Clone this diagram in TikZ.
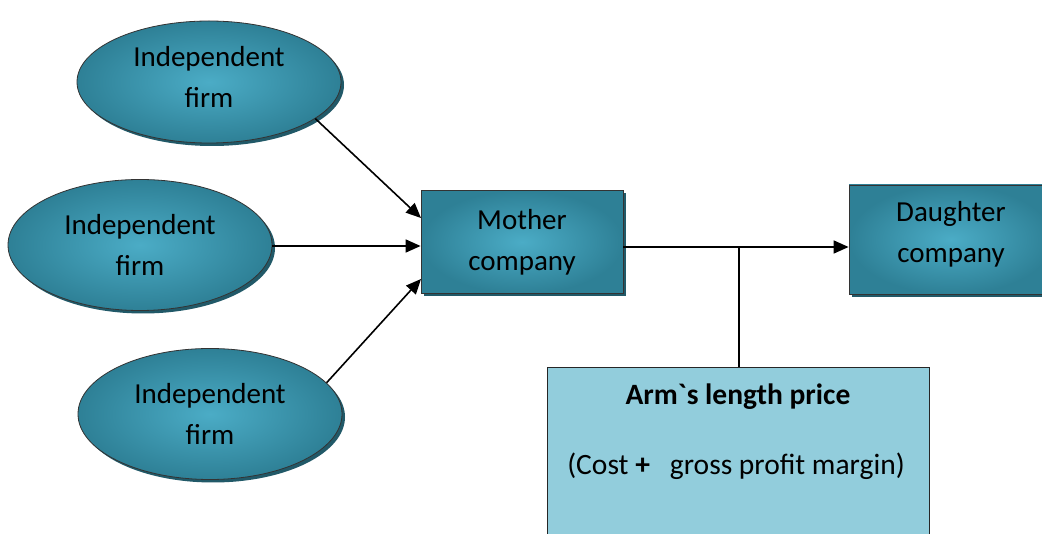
\documentclass[tikz,border=0pt]{standalone}
\usepackage{fontspec}
\setmainfont{Carlito}[Ligatures=TeXOff]
\usetikzlibrary{shapes.geometric,shadows,arrows.meta}

\definecolor{tealin}{RGB}{75,172,198}
\definecolor{tealout}{RGB}{46,128,150}
\definecolor{tealshadow}{RGB}{33,89,104}
\definecolor{pricefill}{RGB}{146,205,220}

\tikzset{
  shaded/.style={draw=black!80, line width=0.8pt, inner color=tealin, outer color=tealout,
    drop shadow={shadow xshift=3pt, shadow yshift=-3pt, fill=tealshadow, opacity=1}},
  firm/.style={shaded, ellipse, minimum width=264pt, minimum height=131pt, inner sep=0pt,
    align=center, font=\fontsize{29}{41}\selectfont},
  company/.style={shaded, rectangle, inner sep=0pt, align=center,
    font=\fontsize{29}{41}\selectfont},
  caption/.style={align=center, inner sep=0pt, font=\fontsize{29}{41}\selectfont},
  link/.style={line width=1.6pt, -{Triangle[length=15pt,width=13pt]}},
  plain/.style={line width=1.6pt},
}

\begin{document}
\begin{tikzpicture}[x=1pt,y=-1pt]
  \useasboundingbox (0,0) rectangle (1042,534);
  \begin{scope}
    \clip (0,0) rectangle (1042,534);

    % suppliers
    \node[firm, minimum height=122pt] (f1) at (209,82) {};
    \node[caption] (f1text) at (209,77) {Independent\\firm};
    \node[firm] (f2) at (140,245) {Independent\\firm};
    \node[firm] (f3) at (210,414) {Independent\\firm};

    % group companies
    \node[company, minimum width=202pt, minimum height=103pt] (mother) at (522,242) {Mother\\company};
    \node[company, minimum width=204pt, minimum height=109pt] (daughter) at (951,239.5) {};
    \node[caption] (daughtertext) at (951,234) {Daughter\\company};

    % pricing box
    \node[draw=black!85, line width=1.2pt, fill=pricefill, minimum width=382pt, minimum height=200pt,
          anchor=north west, inner sep=0pt] (price) at (547,367) {};
    \node[font=\fontsize{29.5}{34}\selectfont\bfseries] (pricetitle) at (738,397) {Arm`s length price};
    \node[font=\fontsize{29.5}{34}\selectfont] (priceformula) at (736,466) {(Cost \textbf{+}\ \ \ gross profit margin)};

    % connectors
    \coordinate (a1) at (421,218);
    \coordinate (a3) at (421,279);
    \coordinate (j) at (739,247);
    \draw[link] (f1.-19.4) -- (a1);
    \draw[link] (f2.east |- 0,246) -- (mother.west |- 0,246);
    \draw[link] (f3.15.3) -- (a3);
    \draw[link] (mother.east |- 0,247) -- (daughter.west |- 0,247);
    \draw[plain] (j) -- (j |- price.north);
  \end{scope}
\end{tikzpicture}
\end{document}
